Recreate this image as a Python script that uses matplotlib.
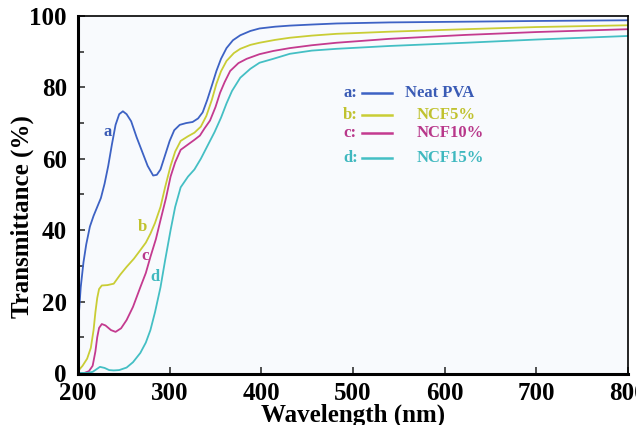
import numpy as np
import matplotlib.pyplot as plt

# UV-vis transmittance of PVA films
wl_a = [200, 203, 206, 209, 213, 217, 221, 225, 229, 233, 237, 241, 245, 249, 253, 258,
        264, 270, 276, 282, 286, 290, 295, 300, 305, 311, 318, 325, 331, 336, 341, 346,
        351, 356, 362, 369, 377, 388, 398, 415, 431, 455, 482, 540, 623, 700, 800]
T_a = [13, 24, 31, 36, 41, 44, 46.5, 49, 53, 58, 64, 69.5, 72.5, 73.3, 72.5, 70.5,
       66, 62, 58, 55.3, 55.5, 57, 61, 65, 68, 69.5, 70, 70.3, 71.3, 73, 76.5, 80.5,
       84.6, 88, 91, 93.2, 94.6, 95.8, 96.5, 97, 97.3, 97.6, 97.9, 98.2, 98.4, 98.6, 98.8]

wl_b = [200, 205, 210, 214, 217, 219, 221, 223, 226, 232, 239, 246, 253, 261, 268, 274,
        279, 284, 290, 295, 301, 306, 312, 320, 327, 334, 340, 346, 351, 356, 362, 370,
        377, 388, 398, 415, 431, 455, 482, 540, 623, 700, 800]
T_b = [0.5, 2, 4, 7, 12, 17, 21, 23.5, 24.5, 24.6, 25, 27.5, 29.7, 32, 34.4, 36.5,
       39, 42, 46.5, 52, 58, 62, 65, 66.3, 67.3, 69, 72, 76.5, 81, 84.5, 87.4, 89.6,
       90.8, 91.9, 92.5, 93.3, 93.9, 94.5, 95, 95.6, 96.3, 96.9, 97.4]

wl_c = [200, 207, 212, 216, 219, 221, 223, 226, 230, 236, 241, 247, 253, 260, 268, 274,
        279, 285, 290, 296, 301, 306, 312, 320, 327, 333, 338, 344, 350, 355, 360, 366,
        375, 384, 398, 413, 431, 455, 482, 540, 623, 700, 800]
T_c = [0, 0, 0.5, 2, 6, 10, 12.6, 13.7, 13.3, 12, 11.5, 12.5, 14.8, 18.5, 24, 28,
       32.5, 37.5, 42.8, 49, 55, 59, 62.5, 64, 65.3, 66.5, 68.5, 70.7, 74.5, 78.5, 81.5, 84.6,
       86.8, 88, 89.3, 90.2, 91, 91.8, 92.5, 93.6, 94.7, 95.5, 96.3]

wl_d = [200, 210, 216, 220, 224, 229, 234, 239, 245, 253, 260, 268, 274, 279, 284, 290,
        295, 301, 306, 312, 320, 327, 334, 341, 349, 356, 362, 368, 377, 388, 398, 413,
        431, 455, 482, 540, 623, 700, 800]
T_d = [0, 0, 0.3, 1, 1.7, 1.4, 0.8, 0.7, 0.8, 1.5, 3, 5.6, 8.5, 12, 17, 24,
       31.5, 40, 46.5, 52, 55, 57, 60, 63.5, 67.5, 71.5, 75.5, 79, 82.7, 85.2, 86.9, 88,
       89.4, 90.3, 90.8, 91.6, 92.5, 93.4, 94.4]

letters = ["a", "b", "c", "d"]
names = ["Neat PVA", "NCF5%", "NCF10%", "NCF15%"]
line_colors = ["#3d62c4", "#c9cd35", "#c43a8f", "#44bfc4"]
text_colors = ["#3a5bb5", "#c0c22f", "#b8378a", "#3fb8bf"]

plt.rcParams["font.family"] = "Liberation Serif"
plt.rcParams["font.weight"] = "bold"

fig = plt.figure(figsize=(6.36, 4.25), dpi=100)
ax = fig.add_axes([0.1226, 0.12, 0.865, 0.8424])
ax.set_facecolor("#f8fafd")

for wl, T, col in zip([wl_a, wl_b, wl_c, wl_d], [T_a, T_b, T_c, T_d], line_colors):
    ax.plot(wl, T, color=col, lw=1.3)

# letters next to each curve
lab_pos = [(232, 67.4), (270, 41), (273, 32.7), (284, 27)]
for (x, y), s, c in zip(lab_pos, letters, text_colors):
    ax.text(x, y, s, color=c, fontsize=12, fontweight="bold", ha="center", va="center")

# hand-made key
rows = [0.785, 0.723, 0.673, 0.603]
for i, y in enumerate(rows):
    ax.text(0.482, y, letters[i] + ":", transform=ax.transAxes, color=text_colors[i],
            fontsize=12, fontweight="bold", va="center")
    ax.plot([0.516, 0.571], [y, y], transform=ax.transAxes, color=line_colors[i], lw=1.8)
    x0 = 0.595 if i == 0 else 0.615
    ax.text(x0, y, names[i], transform=ax.transAxes, color=text_colors[i],
            fontsize=12, fontweight="bold", va="center")

ax.set_xlim(200, 800)
ax.set_ylim(-0.3, 100)
ax.set_xticks([200, 300, 400, 500, 600, 700, 800])
ax.set_yticks([0, 20, 40, 60, 80, 100])
ax.set_yticks(np.arange(10, 100, 20), minor=True)
ax.tick_params(axis="both", which="both", direction="in", top=False, right=False,
               labelsize=18, width=1.2, color="#333333")
ax.tick_params(axis="both", which="major", length=5)
ax.tick_params(axis="y", which="minor", length=4)
ax.tick_params(axis="x", pad=6)
ax.tick_params(axis="y", pad=8)

for side in ["left", "bottom"]:
    ax.spines[side].set_linewidth(2.2)
for side in ["top", "right"]:
    ax.spines[side].set_linewidth(1.2)

ax.set_xlabel("Wavelength (nm)", fontsize=18, fontweight="bold", labelpad=-1)
ax.set_ylabel("Transmittance (%)", fontsize=18, fontweight="bold")
ax.yaxis.set_label_coords(-0.08, 0.44)

fig.savefig("out.png", dpi=100)
